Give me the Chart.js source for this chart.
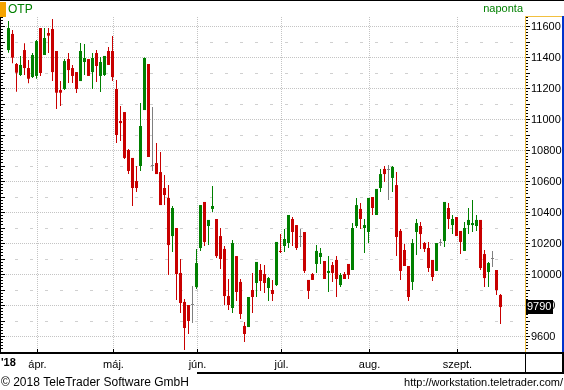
<!DOCTYPE html>
<html><head><meta charset="utf-8">
<script src="https://cdn.jsdelivr.net/npm/chart.js@4.4.0/dist/chart.umd.min.js"></script>
<style>html,body{margin:0;padding:0;background:#fff;}#wrap{width:564px;height:390px;}</style>
</head><body><div id="wrap"><canvas id="c" width="564" height="390"></canvas></div>
<script>
const symbol = 'OTP';
const periodLabel = 'naponta';
const yearLabel = "'18";
const copyright = '\u00A9 2018 TeleTrader Software GmbH';
const sourceUrl = 'http://workstation.teletrader.com/';
const monthLabels = ['ápr.', 'máj.', 'jún.', 'júl.', 'aug.', 'szept.'];
const monthStartIndex = [8, 27, 48, 69, 91, 113];
const priceTicks = [9600, 9800, 10000, 10200, 10400, 10600, 10800, 11000, 11200, 11400, 11600];

const opens = [11448,11552,11358,11287,11448,11332,11274,11281,11590,11416,
11558,11584,11442,11190,11197,11390,11332,11306,11248,11371,
11390,11306,11429,11281,11287,11442,11442,11197,10990,11048,
10803,10752,10603,10700,11061,11358,10700,10719,10661,10558,
10494,10248,10300,10010,9823,9803,9803,9919,10171,10468,
10313,10423,10358,10248,10165,9861,9784,10119,9952,9668,
9661,9900,9945,10029,10003,9913,9900,9932,10152,10184,
10203,10358,10319,10242,10274,9965,10003,10068,10113,10087,
10010,10061,10094,9932,10003,10068,10029,10313,10423,10300,
10274,10500,10384,10558,10681,10674,10623,10577,10281,10158,
10055,9952,10274,10313,10203,10171,10094,10023,10203,10216,
10429,10319,10371,10281,10152,10319,10319,10313,10352,10132,
10016,10100,10029,9868];
const highs = [11635,11577,11365,11410,11492,11384,11429,11513,11590,11590,
11590,11648,11442,11248,11390,11429,11352,11306,11494,11487,
11390,11429,11448,11403,11410,11468,11539,11255,11087,11048,
10810,10752,10700,11106,11400,11358,11081,10848,10790,10642,
10577,10442,10300,10100,9842,9803,9926,10165,10448,10468,
10352,10571,10358,10300,10184,9971,10223,10119,9971,9693,
9855,10010,10081,10068,10061,9984,9965,10210,10261,10294,
10384,10371,10319,10294,10274,9965,10010,10190,10171,10087,
10119,10081,10119,10010,10016,10068,10332,10494,10461,10358,
10494,10500,10552,10681,10700,10706,10700,10661,10294,10197,
10055,10229,10358,10339,10210,10210,10094,10203,10229,10468,
10461,10384,10371,10281,10339,10429,10481,10384,10352,10158,
10081,10152,10029,9874];
const lows = [11431,11363,11179,11281,11287,11234,11268,11263,11281,11416,
11429,11248,11068,11087,11190,11235,11235,11171,11248,11287,
11281,11197,11242,11177,11281,11352,11248,10848,10861,10745,
10648,10442,10532,10668,11061,10758,10668,10648,10448,10448,
9997,10145,9835,9752,9513,9616,9687,9906,10152,10184,
10190,10403,10106,10035,9803,9771,9752,9829,9713,9565,
9661,9752,9855,9894,9881,9829,9829,9926,10139,10145,
10171,10184,10158,10177,10010,9842,9965,10010,10068,9971,
9887,9952,9855,9919,9971,9971,10029,10300,10294,10139,
10203,10384,10384,10532,10597,10481,10532,10119,9965,10055,
9829,9900,10126,10165,10145,10016,9958,10023,10184,10177,
10294,10261,10248,10132,10152,10261,10274,10281,10029,9919,
9919,10048,9868,9681];
const closes = [11590,11399,11302,11352,11332,11263,11416,11506,11300,11526,
11541,11306,11173,11173,11377,11319,11281,11197,11442,11397,
11281,11397,11345,11371,11410,11352,11274,10900,10977,10752,
10668,10558,10558,10958,11397,10758,10700,10648,10448,10513,
10190,10429,10003,9816,9655,9700,9803,10074,10448,10210,
10352,10442,10119,10100,9861,9803,10203,9887,9745,9616,
9855,9855,10081,9958,9945,9977,9874,10210,10145,10229,
10384,10274,10171,10242,10023,9894,9965,10152,10139,9971,
10023,10010,9971,9997,9971,9997,10300,10448,10358,10319,
10494,10429,10552,10648,10648,10674,10694,10242,10023,10055,
9855,10203,10332,10261,10165,10042,9984,10203,10203,10468,
10358,10358,10248,10210,10300,10352,10332,10352,10042,9977,
10074,10100,9900,9790];

const UP = '#008000', DOWN = '#c80000', FLAT = '#808080';
const FONT = '"Liberation Sans", Arial, sans-serif';
const candleColors = closes.map((c, i) => c > opens[i] ? UP : (c < opens[i] ? DOWN : FLAT));
const lastPrice = closes[closes.length - 1];

const deco = {
  id: 'deco',
  beforeDraw(chart) {
    const {ctx, chartArea: a, scales: {x, y}} = chart;
    ctx.save();
    ctx.fillStyle = '#ffffff';
    ctx.fillRect(0, 0, chart.width, chart.height);
    ctx.lineWidth = 1;
    const first = Math.ceil(y.min / 100) * 100;
    for (let v = first; v <= y.max; v += 100) {
      const py = Math.round(y.getPixelForValue(v) - 0.5) + 0.5;
      if (v % 200 === 0) { ctx.strokeStyle = '#c4c4c4'; ctx.setLineDash([1, 1]); }
      else { ctx.strokeStyle = '#d0d0d0'; ctx.setLineDash([3, 12]); }
      ctx.beginPath(); ctx.moveTo(a.left, py); ctx.lineTo(a.right - 1, py); ctx.stroke();
    }
    ctx.strokeStyle = '#c4c4c4'; ctx.setLineDash([1, 1]);
    monthStartIndex.forEach(m => {
      const px = Math.floor(x.getPixelForValue(m - 0.75)) + 0.5;
      ctx.beginPath(); ctx.moveTo(px, a.top); ctx.lineTo(px, a.bottom); ctx.stroke();
    });
    ctx.restore();
  },
  afterDraw(chart) {
    const {ctx, chartArea: a, scales: {x, y}} = chart;
    const W = chart.width;
    ctx.save();
    ctx.fillStyle = '#000';
    ctx.fillRect(0, 0, W, 1);
    ctx.fillRect(0, a.top, 1, a.bottom - a.top);
    for (let v = Math.ceil(y.min / 20) * 20; v <= y.max; v += 20) {
      const py = Math.round(y.getPixelForValue(v) - 0.5);
      const major = v % 100 === 0;
      ctx.fillRect(0, py, major ? 5 : 3, 1);
      ctx.fillRect(a.right, py, major ? 4 : 2, 1);
    }
    ctx.fillStyle = '#f2c040';
    ctx.fillRect(a.right - 1, a.top, 1, a.bottom - a.top);
    ctx.fillRect(a.right - 1, a.top - 1, W - a.right - 1, 1);
    ctx.fillStyle = '#0033cc';
    ctx.fillRect(W - 2, a.top - 1, 2, a.bottom - a.top + 1);
    ctx.fillStyle = '#000';
    ctx.fillRect(0, a.bottom, W, 2);
    ctx.fillRect(197, a.bottom + 20, W - 197, 2);
    ctx.fillRect(a.right - 1, a.bottom, 1, 20);
    ctx.fillRect(W - 2, a.bottom, 2, 20);
    monthStartIndex.forEach(m => {
      const px = Math.floor(x.getPixelForValue(m - 0.75));
      ctx.fillRect(px, a.bottom - 3, 1, 3);
    });
    ctx.fillStyle = '#f5a300';
    ctx.fillRect(0, 2, 6, 15);
    ctx.fillStyle = '#008000';
    ctx.textBaseline = 'alphabetic';
    ctx.textAlign = 'left';
    ctx.font = '12px ' + FONT;
    ctx.fillText(symbol, 8, 13);
    ctx.font = '11px ' + FONT;
    ctx.textAlign = 'right';
    ctx.fillText(periodLabel, 523, 12);
    ctx.fillStyle = '#000';
    ctx.textAlign = 'left';
    ctx.font = 'bold 11px ' + FONT;
    ctx.fillText(yearLabel, 1, 366);
    ctx.font = '12px ' + FONT;
    ctx.fillText(copyright, 1, 386);
    ctx.textAlign = 'right';
    ctx.font = '11px ' + FONT;
    ctx.fillText(sourceUrl, W - 1, 386);
    const py = Math.round(y.getPixelForValue(lastPrice));
    ctx.fillStyle = '#000';
    ctx.fillRect(a.right, py - 7, 27, 14);
    ctx.fillStyle = '#fff';
    ctx.textAlign = 'left';
    ctx.textBaseline = 'middle';
    ctx.font = '11px ' + FONT;
    ctx.fillText(String(lastPrice), a.right + 1, py);
    ctx.restore();
  }
};

new Chart(document.getElementById('c'), {
  type: 'bar',
  data: {
    datasets: [
      {
        data: lows.map((l, i) => ({x: i, y: [l, highs[i]]})),
        backgroundColor: candleColors,
        barThickness: 1, grouped: false, inflateAmount: 0, borderWidth: 0
      },
      {
        data: opens.map((o, i) => ({x: i, y: [o, closes[i]]})),
        backgroundColor: candleColors,
        barThickness: 3, grouped: false, inflateAmount: 0, borderWidth: 0, minBarLength: 1
      }
    ]
  },
  options: {
    responsive: false,
    animation: false,
    devicePixelRatio: 1,
    layout: {padding: {top: 17, left: 0, right: 0, bottom: 0}},
    plugins: {legend: {display: false}, tooltip: {enabled: false}},
    scales: {
      x: {
        type: 'linear', position: 'bottom', offset: false,
        min: -2.125, max: 129.375,
        grid: {display: false, drawTicks: false},
        border: {display: false},
        afterBuildTicks: s => { s.ticks = monthStartIndex.map(m => ({value: m - 0.75})); },
        ticks: {
          autoSkip: false, maxRotation: 0, minRotation: 0, padding: 6,
          color: '#000', font: {size: 11, family: FONT},
          callback: (v, i) => monthLabels[i]
        },
        afterFit: s => { s.height = 38; s.paddingLeft = 0; s.paddingRight = 0; }
      },
      y: {
        position: 'right', min: 9500, max: 11661.3, stacked: false,
        grid: {display: false, drawTicks: false},
        border: {display: false},
        afterBuildTicks: s => { s.ticks = priceTicks.map(v => ({value: v})); },
        ticks: {
          autoSkip: false, padding: 5,
          color: '#000', font: {size: 11, family: FONT},
          callback: (v, i) => String(priceTicks[i])
        },
        afterFit: s => { s.width = 38; s.paddingTop = 0; s.paddingBottom = 0; }
      }
    }
  },
  plugins: [deco]
});
</script>
</body></html>
